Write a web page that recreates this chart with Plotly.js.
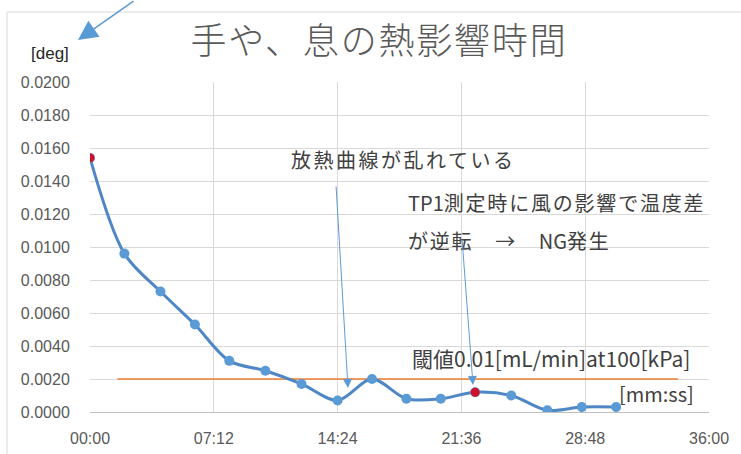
<!DOCTYPE html>
<html>
<head>
<meta charset="utf-8">
<script src="https://cdn.plot.ly/plotly-3.0.1.min.js"></script>
<style>
  html, body { margin: 0; padding: 0; background: #fff; }
  #chart { width: 741px; height: 454px; }
</style>
</head>
<body>
<div id="chart"></div>
<script>
// elapsed time of each reading [min] and temperature difference [deg]
const elapsedMin = [0, 2.0, 4.1, 6.1, 8.1, 10.2, 12.3, 14.4, 16.4, 18.4, 20.4, 22.4, 24.5, 26.6, 28.6, 30.6];
const tempDiff   = [0.0154, 0.0096, 0.0073, 0.0053, 0.0031, 0.0025, 0.0017, 0.0007, 0.0020,
                    0.0008, 0.0008, 0.0012, 0.0010, 0.0001, 0.0003, 0.0003];
// readings flagged in red (first reading and the NG reading)
const flaggedIdx = [0, 11];

// threshold line (0.01 mL/min at 100 kPa)
const thresholdValue = 0.002;
const thresholdSpan  = [1.6, 34.2];

// axis ticks
const xTickVals  = [0, 7.2, 14.4, 21.6, 28.8, 36];
const xTickText  = ['00:00', '07:12', '14:24', '21:36', '28:48', '36:00'];

const cjk = '"Noto Sans CJK JP", "Noto Sans", sans-serif';
const latin = '"Liberation Sans", Arial, sans-serif';
const sp = (s, px) => '<span style="letter-spacing:' + px + 'px">' + s + '</span>';

// plot-area geometry in pixels, used to place paper-referenced decorations
const W = 741, H = 454, L = 90, R = 32, T = 82, B = 42;
const pw = W - L - R, ph = H - T - B;
const px = x => (x - L) / pw;
const py = y => (H - B - y) / ph;

const traces = [
  {
    x: thresholdSpan,
    y: thresholdSpan.map(() => thresholdValue),
    mode: 'lines',
    line: { color: '#ED7D31', width: 1.6 },
    hoverinfo: 'skip'
  },
  {
    x: elapsedMin,
    y: tempDiff,
    mode: 'lines+markers',
    line: { color: '#4F87C6', width: 3, shape: 'spline', smoothing: 0.9 },
    marker: { color: '#5B9BD5', size: 10 }
  },
  {
    x: flaggedIdx.map(i => elapsedMin[i]),
    y: flaggedIdx.map(i => tempDiff[i]),
    mode: 'markers',
    marker: { color: '#D0112B', size: 9 }
  }
];

const annotations = [
  { xref: 'paper', yref: 'paper', x: px(29), y: py(53), xanchor: 'left', yanchor: 'middle',
    text: '[deg]', showarrow: false, font: { family: latin, size: 17, color: '#262626' } },
  { xref: 'paper', yref: 'paper', x: px(289), y: py(159), xanchor: 'left', yanchor: 'middle',
    text: sp('放熱曲線が乱れている', 2.5), showarrow: false, font: { family: cjk, size: 20, color: '#404040' } },
  { xref: 'paper', yref: 'paper', x: px(406), y: py(202), xanchor: 'left', yanchor: 'middle',
    text: 'TP1' + sp('測定時に風の影響で温度差', 1.8), showarrow: false, font: { family: cjk, size: 20, color: '#404040' } },
  { xref: 'paper', yref: 'paper', x: px(406), y: py(240), xanchor: 'left', yanchor: 'middle',
    text: sp('が逆転　→　', 1.8) + 'NG' + sp('発生', 1.8), showarrow: false, font: { family: cjk, size: 20, color: '#404040' } },
  { xref: 'paper', yref: 'paper', x: px(410), y: py(358), xanchor: 'left', yanchor: 'middle',
    text: '閾値0.01[mL/min]at100[kPa]', showarrow: false, font: { family: cjk, size: 21, color: '#404040' } },
  { xref: 'paper', yref: 'paper', x: px(617), y: py(393), xanchor: 'left', yanchor: 'middle',
    text: '[mm:ss]', showarrow: false, font: { family: cjk, size: 20, color: '#404040' } },
  // pointer to the unit label
  { xref: 'paper', yref: 'paper', x: px(78), y: py(40), ax: 57, ay: -44, text: '',
    showarrow: true, arrowhead: 2, arrowsize: 2.6, arrowwidth: 1.5, arrowcolor: '#5B9BD5' },
  // pointers to the disturbed readings
  { xref: 'paper', yref: 'paper', x: px(348), y: py(388), ax: -12, ay: -203, text: '',
    showarrow: true, arrowhead: 2, arrowsize: 1.8, arrowwidth: 1, arrowcolor: '#5B9BD5' },
  { xref: 'paper', yref: 'paper', x: px(473), y: py(385), ax: -11, ay: -147, text: '',
    showarrow: true, arrowhead: 2, arrowsize: 1.8, arrowwidth: 1, arrowcolor: '#5B9BD5' }
];

const layout = {
  width: W, height: H,
  margin: { l: L, r: R, t: T, b: B, pad: 0 },
  paper_bgcolor: '#fff', plot_bgcolor: '#fff',
  showlegend: false,
  title: {
    text: sp('手や、息の熱影響時間', 1.8),
    xref: 'paper', yref: 'paper',
    x: px(379), xanchor: 'center',
    y: py(60), yanchor: 'middle',
    font: { family: cjk, size: 36, color: '#595959', weight: 300 }
  },
  xaxis: {
    range: [0, 36],
    tickvals: xTickVals, ticktext: xTickText,
    showgrid: true, gridcolor: '#D9D9D9', gridwidth: 1,
    zeroline: false,
    showline: true, linecolor: '#BFBFBF', linewidth: 1,
    ticks: 'outside', ticklen: 12, tickcolor: 'rgba(0,0,0,0)',
    tickfont: { family: latin, size: 16, color: '#595959' },
    fixedrange: true
  },
  yaxis: {
    range: [0, 0.02],
    dtick: 0.002, tick0: 0,
    tickformat: '.4f',
    showgrid: true, gridcolor: '#D9D9D9', gridwidth: 1,
    zeroline: false, showline: false,
    ticks: 'outside', ticklen: 16, tickcolor: 'rgba(0,0,0,0)',
    tickfont: { family: latin, size: 16, color: '#595959' },
    fixedrange: true
  },
  shapes: [
    { type: 'rect', xref: 'paper', yref: 'paper', layer: 'below',
      x0: px(7), x1: px(760), y0: py(470), y1: py(12),
      line: { color: '#D9D9D9', width: 1 }, fillcolor: 'rgba(0,0,0,0)' }
  ],
  annotations: annotations
};

Plotly.newPlot('chart', traces, layout, { displayModeBar: false, staticPlot: true });
</script>
</body>
</html>
